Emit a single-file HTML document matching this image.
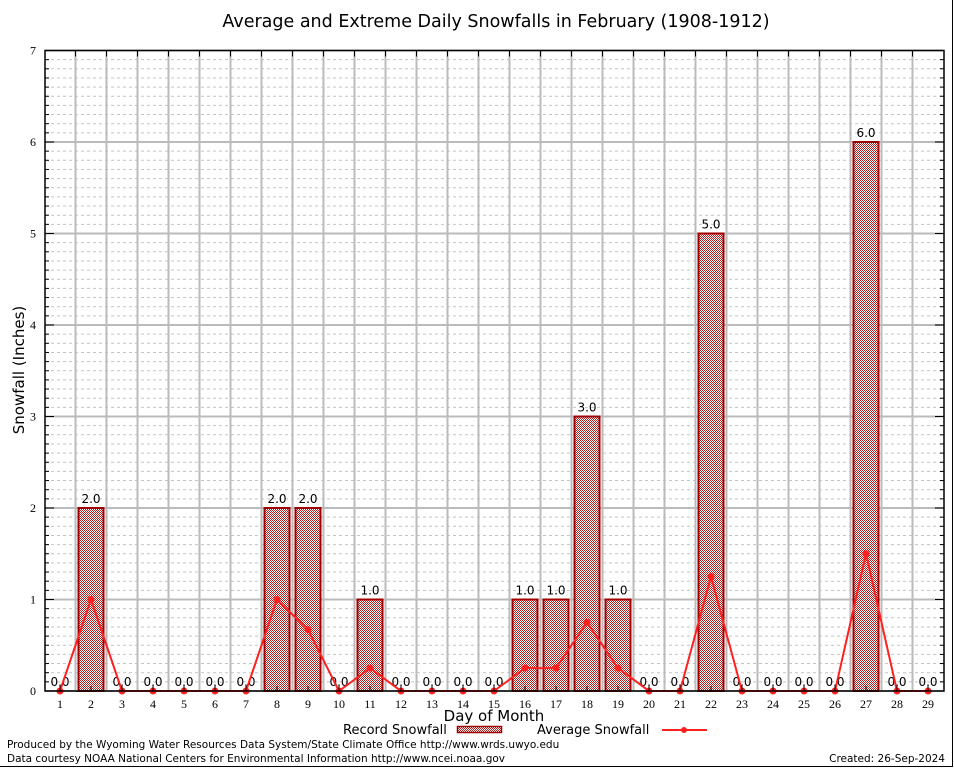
<!DOCTYPE html>
<html><head><meta charset="utf-8"><style>
body{margin:0;background:#fff}
svg{display:block;font-family:"DejaVu Sans","Liberation Sans",sans-serif}
</style></head><body>
<svg width="954" height="768" viewBox="0 0 954 768" xmlns="http://www.w3.org/2000/svg">
<defs>
<pattern id="hatch" width="2" height="2" patternUnits="userSpaceOnUse">
<rect width="2" height="2" fill="#fff"/><rect width="1" height="1" fill="#b02020"/><rect x="1" y="1" width="1" height="1" fill="#b02020"/>
</pattern>
</defs>
<rect width="954" height="768" fill="#fff"/>
<text x="496" y="27" font-size="17.5" text-anchor="middle">Average and Extreme Daily Snowfalls in February (1908-1912)</text>
<g id="grid"></g>
<g id="bars"></g>
<g id="line"></g>
<g id="axes"></g>
<text transform="translate(24,370) rotate(-90)" font-size="15" text-anchor="middle">Snowfall (Inches)</text>
<text x="494" y="721" font-size="15" text-anchor="middle">Day of Month</text>
<g>
<text x="343" y="734" font-size="13">Record Snowfall</text>
<rect x="457.5" y="726.5" width="44" height="6" fill="url(#hatch)" stroke="#a00000" stroke-width="1.5"/>
<text x="537" y="734" font-size="13">Average Snowfall</text>
<line x1="662" y1="730" x2="707" y2="730" stroke="#ff2020" stroke-width="2"/>
<circle cx="684" cy="730" r="3" fill="#ff2020"/>
</g>
<text x="7" y="748" font-size="10.5">Produced by the Wyoming Water Resources Data System/State Climate Office http://www.wrds.uwyo.edu</text>
<text x="7" y="762" font-size="10.5">Data courtesy NOAA National Centers for Environmental Information http://www.ncei.noaa.gov</text>
<text x="945" y="762" font-size="10.5" text-anchor="end">Created:  26-Sep-2024</text>
<line x1="952.5" y1="0" x2="952.5" y2="767" stroke="#000"/>
<line x1="0" y1="766.5" x2="953" y2="766.5" stroke="#000"/>
</svg>
<script>
const days=[1,2,3,4,5,6,7,8,9,10,11,12,13,14,15,16,17,18,19,20,21,22,23,24,25,26,27,28,29];
const recordValues=[0,2,0,0,0,0,0,2,2,0,1,0,0,0,0,1,1,3,1,0,0,5,0,0,0,0,6,0,0];
const averageValues=[0,1,0,0,0,0,0,1,0.67,0,0.25,0,0,0,0,0.25,0.25,0.75,0.25,0,0,1.25,0,0,0,0,1.5,0,0];
const yTicks=[0,1,2,3,4,5,6,7];
const NS="http://www.w3.org/2000/svg";
const L=45,R=944,T=50.5,B=691;
function xs(d){return 60+(d-1)*31;}
function ys(v){return B-v*91.5;}
function mk(tag,attrs,parent,txt){const e=document.createElementNS(NS,tag);for(const k in attrs)e.setAttribute(k,attrs[k]);if(txt!==undefined)e.textContent=txt;parent.appendChild(e);return e;}
const grid=document.getElementById('grid'),bars=document.getElementById('bars'),line=document.getElementById('line'),axes=document.getElementById('axes');
for(let i=1;i<70;i++){if(i%10===0)continue;const y=ys(i/10);const e=mk('line',{x1:L,x2:R,y1:y,y2:y,stroke:'#c4c4c4','stroke-dasharray':'3,3','stroke-width':1},grid);


mk('line',{x1:L,x2:L+4,y1:y,y2:y,stroke:'#000'},axes);mk('line',{x1:R-4,x2:R,y1:y,y2:y,stroke:'#000'},axes);}
yTicks.forEach(t=>{const y=ys(t);const e=mk('line',{x1:L,x2:R,y1:y,y2:y,stroke:'#bbb','stroke-width':2},grid);


mk('line',{x1:L,x2:L+9,y1:y,y2:y,stroke:'#000'},axes);mk('line',{x1:R-9,x2:R,y1:y,y2:y,stroke:'#000'},axes);
const tl=mk('text',{x:L-9,y:y+4,'font-size':12,'text-anchor':'end','font-family':'Liberation Serif,serif'},axes,String(t));

});
for(let k=0;k<days.length-1;k++){const x=(xs(days[k])+xs(days[k+1]))/2;const e=mk('line',{x1:x,x2:x,y1:T,y2:B,stroke:'#bbb','stroke-width':2},grid);


mk('line',{x1:x,x2:x,y1:T,y2:T+6,stroke:'#000'},axes);}
days.forEach((d,i)=>{const x=xs(d),v=recordValues[i];
if(v>0){const r=mk('rect',{x:x-12.5,y:ys(v),width:25,height:B-ys(v),fill:'url(#hatch)',stroke:'#a00000','stroke-width':2},bars);

}
const lab=mk('text',{x:x,y:ys(v)-5,'font-size':12,'text-anchor':'middle'},bars,v.toFixed(1));


mk('line',{x1:x,x2:x,y1:B-5,y2:B,stroke:'#000'},axes);
const xl=mk('text',{x:x,y:B+17,'font-size':12,'text-anchor':'middle','font-family':'Liberation Serif,serif'},axes,String(d));

});
const pl=mk('polyline',{points:days.map((d,i)=>xs(d)+','+ys(averageValues[i])).join(' '),fill:'none',stroke:'#ff2020','stroke-width':2},line);


days.forEach((d,i)=>{const c=mk('circle',{cx:xs(d),cy:ys(averageValues[i]),r:3.5,fill:'#ff2020'},line);

});
const fr=mk('rect',{x:L,y:T,width:R-L,height:B-T,fill:'none',stroke:'#000','stroke-width':1.5},axes);


</script>
</body></html>
